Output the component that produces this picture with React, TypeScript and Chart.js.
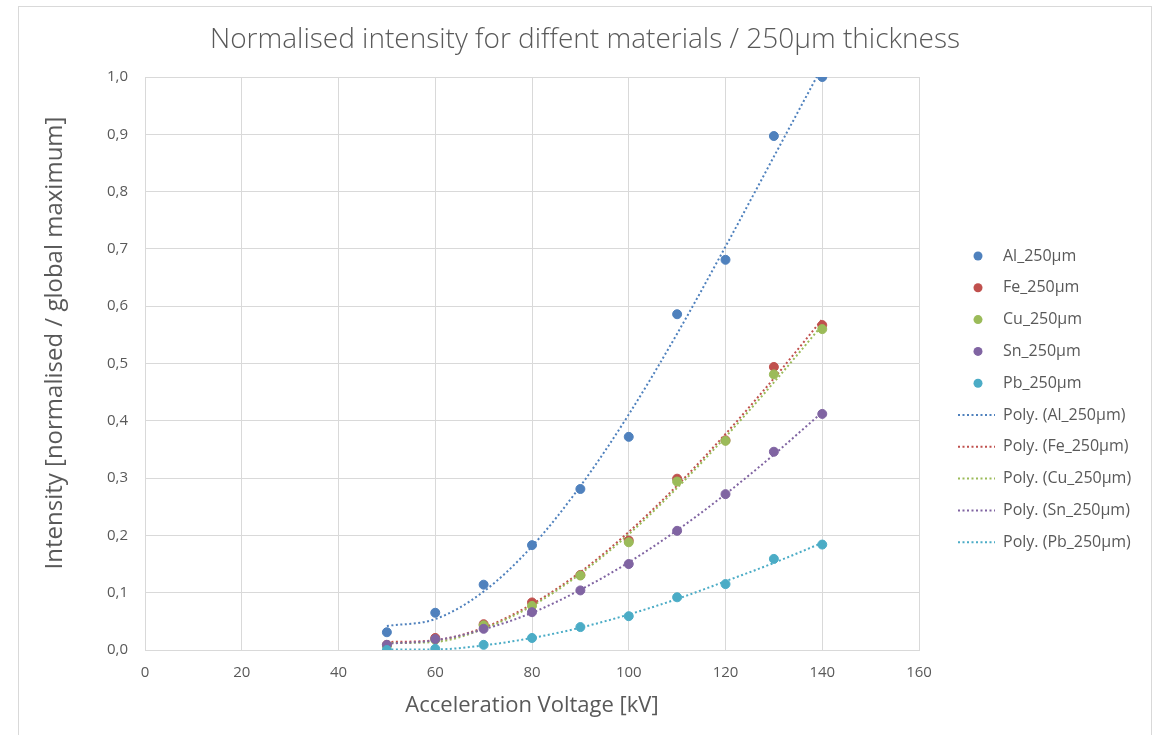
import React, { useEffect, useRef } from 'react';
import { Chart, registerables } from 'chart.js';

Chart.register(...registerables);

// ---- data ----
const voltages = [50, 60, 70, 80, 90, 100, 110, 120, 130, 140];

const alValues = [0.031, 0.065, 0.114, 0.183, 0.281, 0.372, 0.586, 0.681, 0.897, 1.0];
const feValues = [0.009, 0.021, 0.045, 0.083, 0.131, 0.191, 0.299, 0.366, 0.494, 0.567];
const cuValues = [0.007, 0.018, 0.043, 0.077, 0.130, 0.188, 0.294, 0.365, 0.481, 0.560];
const snValues = [0.009, 0.019, 0.037, 0.066, 0.104, 0.150, 0.208, 0.272, 0.346, 0.412];
const pbValues = [0.000, 0.002, 0.009, 0.021, 0.040, 0.059, 0.092, 0.115, 0.159, 0.184];

// polynomial trendline values read at each voltage
const alTrend = [0.042, 0.054, 0.102, 0.181, 0.286, 0.411, 0.552, 0.704, 0.861, 1.018];
const feTrend = [0.014, 0.017, 0.039, 0.080, 0.136, 0.206, 0.287, 0.377, 0.474, 0.577];
const cuTrend = [0.012, 0.014, 0.037, 0.077, 0.133, 0.202, 0.283, 0.372, 0.467, 0.567];
const snTrend = [0.011, 0.017, 0.036, 0.065, 0.105, 0.153, 0.209, 0.272, 0.341, 0.415];
const pbTrend = [0.001, 0.001, 0.008, 0.021, 0.039, 0.062, 0.089, 0.120, 0.152, 0.187];

const seriesNames = ['Al_250µm', 'Fe_250µm', 'Cu_250µm', 'Sn_250µm', 'Pb_250µm'];
const seriesColors = ['#4F81BD', '#C0504D', '#9BBB59', '#8064A2', '#4BACC6'];

const titleText = 'Normalised intensity for diffent materials / 250µm thickness';
const xTitle = 'Acceleration Voltage [kV]';
const yTitle = 'Intensity [normalised / global maximum]';

const xMin = 0;
const xMax = 160;
const xStep = 20;
const yMin = 0;
const yMax = 1;
const yStep = 0.1;

const TEXT = '#595959';
const GRID = '#d9d9d9';
const FONT = "'Open Sans', sans-serif";

const toPoints = (ys: number[]) => voltages.map((x, i) => ({ x, y: ys[i] }));

const pointSeries = [alValues, feValues, cuValues, snValues, pbValues];
const trendSeries = [alTrend, feTrend, cuTrend, snTrend, pbTrend];

const titleLegendPlugin = {
  id: 'titleLegend',
  afterDraw(chart: any) {
    const ctx = chart.ctx as CanvasRenderingContext2D;
    const area = chart.chartArea;
    ctx.save();
    // title
    ctx.fillStyle = TEXT;
    ctx.font = `300 28px ${FONT}`;
    ctx.textAlign = 'center';
    ctx.textBaseline = 'middle';
    ctx.fillText(titleText, chart.width / 2 + 5, 40);

    // y axis title
    ctx.save();
    ctx.translate(area.left - 90, area.top + 266);
    ctx.rotate(-Math.PI / 2);
    ctx.font = `24px ${FONT}`;
    ctx.fillText(yTitle, 0, 0);
    ctx.restore();

    // legend
    const markerX = area.right + 59;
    const lineX0 = area.right + 39;
    const lineX1 = area.right + 76;
    const textX = area.right + 84;
    const y0 = area.top + 179;
    const step = 31.8;
    ctx.font = `16px ${FONT}`;
    ctx.textAlign = 'left';
    ctx.textBaseline = 'middle';
    const items: { label: string; color: string; kind: 'point' | 'line' }[] = [];
    seriesNames.forEach((n, i) => items.push({ label: n, color: seriesColors[i], kind: 'point' }));
    seriesNames.forEach((n, i) => items.push({ label: `Poly. (${n})`, color: seriesColors[i], kind: 'line' }));
    items.forEach((it, i) => {
      const y = y0 + i * step;
      if (it.kind === 'point') {
        ctx.beginPath();
        ctx.fillStyle = it.color;
        ctx.arc(markerX, y, 4.5, 0, Math.PI * 2);
        ctx.fill();
      } else {
        ctx.beginPath();
        ctx.strokeStyle = it.color;
        ctx.lineWidth = 2;
        ctx.setLineDash([2, 2.5]);
        ctx.moveTo(lineX0, y);
        ctx.lineTo(lineX1, y);
        ctx.stroke();
        ctx.setLineDash([]);
      }
      ctx.fillStyle = TEXT;
      ctx.fillText(it.label, textX, y);
    });
    ctx.restore();
  },
};

export default function App() {
  const canvasRef = useRef<HTMLCanvasElement | null>(null);

  useEffect(() => {
    if (!canvasRef.current) return;
    const pointDatasets = pointSeries.map((ys, i) => ({
      type: 'scatter' as const,
      label: seriesNames[i],
      data: toPoints(ys),
      backgroundColor: seriesColors[i],
      borderColor: seriesColors[i],
      borderWidth: 1,
      pointRadius: 4.5,
      pointHoverRadius: 4.5,
      showLine: false,
      order: 4 - i,
    }));
    const trendDatasets = trendSeries.map((ys, i) => ({
      type: 'line' as const,
      label: `Poly. (${seriesNames[i]})`,
      data: toPoints(ys),
      borderColor: seriesColors[i],
      backgroundColor: seriesColors[i],
      borderWidth: 2,
      borderDash: [2, 2.5],
      pointRadius: 0,
      fill: false,
      cubicInterpolationMode: 'monotone' as const,
      order: 14 - i,
    }));

    const chart = new Chart(canvasRef.current, {
      type: 'scatter',
      data: { datasets: [...pointDatasets, ...trendDatasets] as any },
      options: {
        responsive: false,
        animation: false,
        layout: { padding: { top: 77, left: 38, right: 241, bottom: 12 } },
        plugins: {
          legend: { display: false },
          title: { display: false },
          tooltip: { enabled: false },
        },
        scales: {
          x: {
            type: 'linear',
            min: xMin,
            max: xMax,
            afterFit: (s: any) => { s.height = 73; },
            ticks: { stepSize: xStep, color: TEXT, font: { family: FONT, size: 15 }, padding: 14 },
            grid: { color: GRID, lineWidth: 1, drawTicks: false },
            border: { color: GRID, width: 1 },
            title: { display: true, text: xTitle, color: TEXT, font: { family: FONT, size: 22 }, padding: { top: 4, bottom: 4 } },
          },
          y: {
            type: 'linear',
            min: yMin,
            max: yMax,
            afterFit: (s: any) => { s.width = 107; },
            ticks: {
              stepSize: yStep,
              color: TEXT,
              font: { family: FONT, size: 15 },
              padding: 17,
              callback: (v: any) => Number(v).toFixed(1).replace('.', ','),
            },
            grid: { color: GRID, lineWidth: 1, drawTicks: false },
            border: { color: GRID, width: 1 },
            title: { display: false, text: yTitle },
          },
        },
      },
      plugins: [titleLegendPlugin],
    });
    return () => chart.destroy();
  }, []);

  return (
    <div style={{ position: 'fixed', left: 0, top: 0, width: 1160, height: 735, background: '#fff' }}>
      <div style={{ position: 'absolute', left: 18, top: 6, width: 1132, height: 760, border: `1px solid ${GRID}` }} />
      <canvas ref={canvasRef} width={1160} height={735} style={{ position: 'absolute', left: 0, top: 0 }} />
    </div>
  );
}
